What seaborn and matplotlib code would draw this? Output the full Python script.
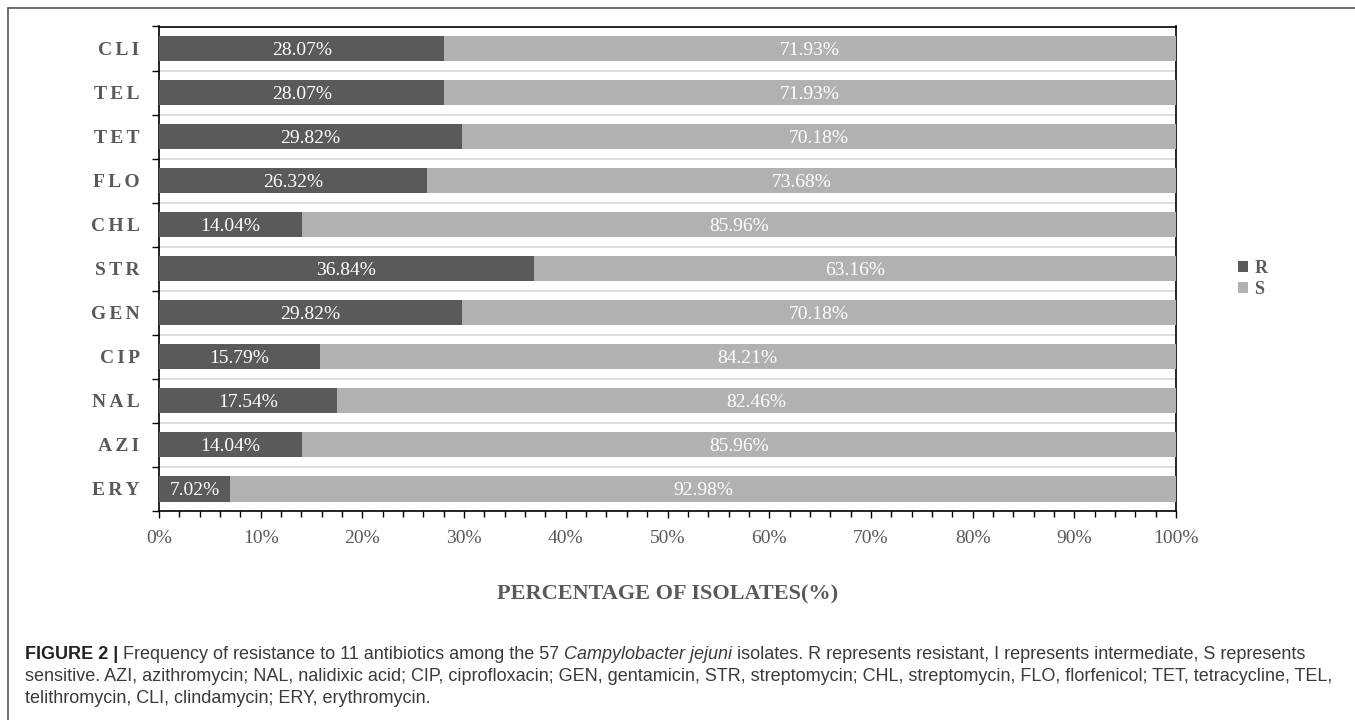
import numpy as np
import pandas as pd
import matplotlib.pyplot as plt
import matplotlib.ticker as mticker
from matplotlib.lines import Line2D
from matplotlib.patches import Patch
import seaborn as sns

antibiotics = ["CLI", "TEL", "TET", "FLO", "CHL", "STR", "GEN", "CIP", "NAL", "AZI", "ERY"]
resistant = [28.07, 28.07, 29.82, 26.32, 14.04, 36.84, 29.82, 15.79, 17.54, 14.04, 7.02]
sensitive = [71.93, 71.93, 70.18, 73.68, 85.96, 63.16, 70.18, 84.21, 82.46, 85.96, 92.98]

R_COLOR = "#5a5a5a"
S_COLOR = "#b1b1b1"
TXT_COLOR = "#595959"
SERIF = ["Liberation Serif", "DejaVu Serif"]
SANS = ["Liberation Sans", "DejaVu Sans"]

df = pd.DataFrame({"drug": antibiotics, "R": resistant, "S": sensitive})
df["total"] = df["R"] + df["S"]

sns.set_theme(style="white")
plt.rcParams["font.family"] = SERIF

fig = plt.figure(figsize=(13.55, 7.2), dpi=100)
ax = fig.add_axes([159 / 1355, 1 - 511 / 720, (1176 - 159) / 1355, (511 - 26.5) / 720])

# stacked bars: full bar (R + S) in light gray, resistant part drawn over it
sns.barplot(data=df, x="total", y="drug", orient="h", color=S_COLOR, width=0.57,
            saturation=1, linewidth=0, ax=ax, zorder=3)
sns.barplot(data=df, x="R", y="drug", orient="h", color=R_COLOR, width=0.57,
            saturation=1, linewidth=0, ax=ax, zorder=3)

for i, (r, s) in enumerate(zip(df["R"], df["S"])):
    ax.text(r / 2, i, f"{r:.2f}%", ha="center", va="center_baseline", color="white",
            fontsize=14, family=SERIF, zorder=4)
    ax.text(r + s / 2, i, f"{s:.2f}%", ha="center", va="center_baseline", color="white",
            fontsize=14, family=SERIF, zorder=4)

ax.set_xlim(0, 100)
ax.set_ylim(len(antibiotics) - 0.5, -0.5)
ax.xaxis.set_major_locator(mticker.MultipleLocator(10))
ax.xaxis.set_minor_locator(mticker.MultipleLocator(2))
ax.xaxis.set_major_formatter(mticker.FuncFormatter(lambda v, p: f"{v:.0f}%"))
ax.yaxis.set_minor_locator(mticker.FixedLocator(np.arange(-0.5, len(antibiotics), 1.0)))
ax.set_yticks(range(len(antibiotics)))
ax.set_yticklabels(["\u2006".join(d) for d in antibiotics])

ax.tick_params(axis="x", which="major", direction="out", length=5, width=1, color="black",
               bottom=True, pad=9, labelsize=14, labelcolor=TXT_COLOR)
ax.tick_params(axis="x", which="minor", direction="out", length=4, width=1, color="black",
               bottom=True)
ax.tick_params(axis="y", which="major", length=0, pad=14, labelsize=14,
               labelcolor=TXT_COLOR)
ax.tick_params(axis="y", which="minor", direction="out", length=5, width=1, color="black",
               left=True)
for lab in ax.get_yticklabels():
    lab.set_fontweight("bold")

ax.grid(False)
ax.grid(True, axis="y", which="minor", color="#d9d9d9", linewidth=1.2, zorder=0)
for sp in ax.spines.values():
    sp.set_visible(True)
    sp.set_color("black")
    sp.set_linewidth(1.2)

ax.set_ylabel("")
ax.set_xlabel("PERCENTAGE OF ISOLATES(%)", fontsize=16, fontweight="bold",
              color=TXT_COLOR, labelpad=27)

handles = [Patch(facecolor=R_COLOR, edgecolor="none"), Patch(facecolor=S_COLOR, edgecolor="none")]
leg = fig.legend(handles, ["R", "S"], loc="center left",
                 bbox_to_anchor=(1222 / 1355, 1 - 279 / 720),
                 frameon=False, handlelength=0.55, handleheight=0.55, handletextpad=0.35,
                 labelspacing=0.2, prop={"family": SERIF, "weight": "bold", "size": 13})
for t in leg.get_texts():
    t.set_color(TXT_COLOR)

# outer frame (top and left edges visible)
fig.add_artist(Line2D([8 / 1355, 8 / 1355], [0, 1 - 8 / 720], transform=fig.transFigure,
                      color="#555555", linewidth=1.2))
fig.add_artist(Line2D([8 / 1355, 1], [1 - 8 / 720, 1 - 8 / 720], transform=fig.transFigure,
                      color="#555555", linewidth=1.2))

# caption
cap_size = 13
cap_color = "#3a3a3a"
x0 = 25 / 1355
t_last = fig.text(x0, 1 - 659 / 720, "FIGURE 2 | ", family=SANS, fontsize=cap_size,
                  fontweight="bold", color="#222222", va="baseline")
pieces = [("Frequency of resistance to 11 antibiotics among the 57 ", "normal"),
          ("Campylobacter jejuni", "italic"),
          (" isolates. R represents resistant, I represents intermediate, S represents", "normal")]
for txt, style in pieces:
    t_last = ax.annotate(txt, xy=(1, 0), xycoords=t_last, va="bottom", ha="left",
                         family=SANS, fontsize=cap_size, fontstyle=style, color=cap_color,
                         annotation_clip=False)

fig.text(x0, 1 - 681 / 720, "sensitive. AZI, azithromycin; NAL, nalidixic acid; CIP, ciprofloxacin; "
         "GEN, gentamicin, STR, streptomycin; CHL, streptomycin, FLO, florfenicol; TET, tetracycline, TEL,",
         family=SANS, fontsize=cap_size, color=cap_color, va="baseline")
fig.text(x0, 1 - 703 / 720, "telithromycin, CLI, clindamycin; ERY, erythromycin.",
         family=SANS, fontsize=cap_size, color=cap_color, va="baseline")

fig.savefig("out.png", dpi=100)
